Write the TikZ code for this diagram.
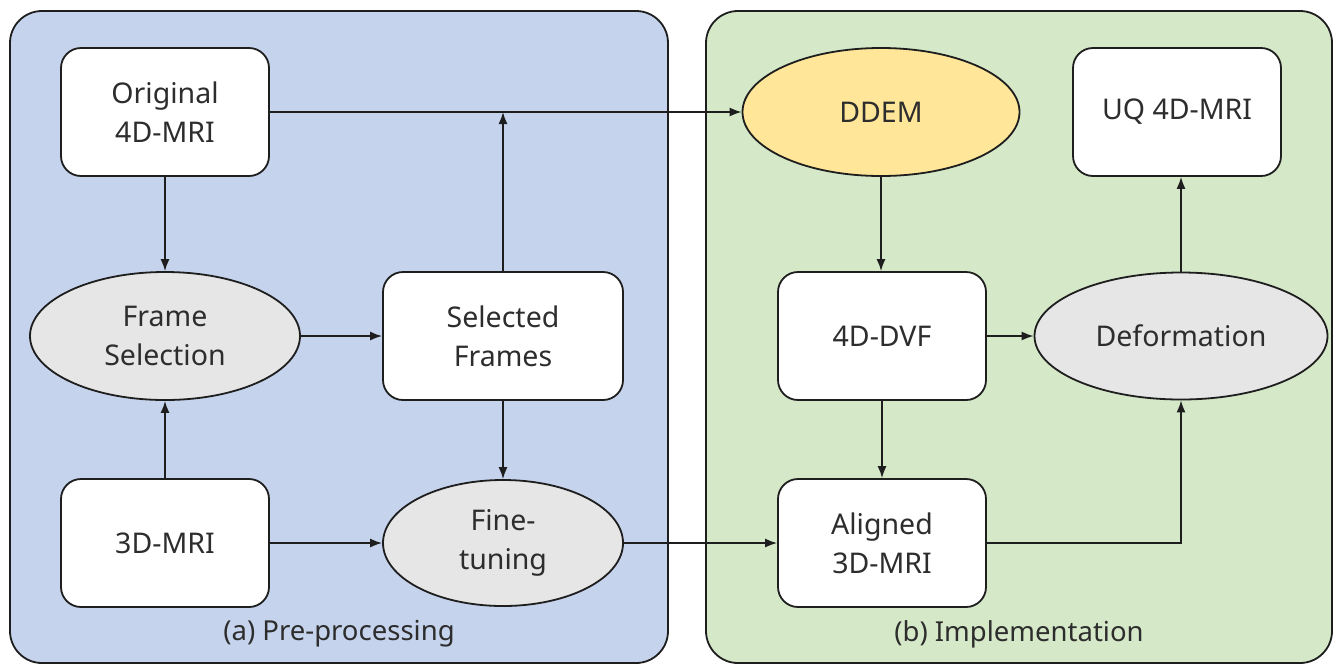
\documentclass[tikz,border=0pt]{standalone}
\usepackage{fontspec}
\setmainfont{Noto Sans}
\usetikzlibrary{shapes.geometric,arrows.meta}
\definecolor{panelA}{RGB}{197,211,236}
\definecolor{panelB}{RGB}{213,232,200}
\definecolor{ellgray}{RGB}{230,230,230}
\definecolor{ddemY}{RGB}{255,230,153}
\definecolor{ink}{RGB}{30,30,30}
\definecolor{txt}{RGB}{45,45,45}
\begin{document}
\begin{tikzpicture}[x=1pt,y=-1pt,
  every node/.style={font=\fontsize{28.5}{39}\selectfont, text=txt, align=center},
  panel/.style={draw=ink, line width=1.8pt, rounded corners=32pt},
  boxnode/.style={draw=ink, line width=1.8pt, fill=white, rounded corners=20pt, minimum width=208pt, minimum height=128pt, inner sep=0pt},
  ellnode/.style={ellipse, draw=ink, line width=1.8pt, fill=ellgray, inner sep=0pt},
  conn/.style={draw=ink, line width=1.6pt, -{Latex[length=12pt,width=9pt]}},
  caption/.style={font=\fontsize{27.5}{30}\selectfont}
]
\useasboundingbox (0,0) rectangle (1340,665);
\fill[white] (0,0) rectangle (1340,665);
\draw[panel, fill=panelA] (10,11) rectangle (668,663);
\draw[panel, fill=panelB] (706,11) rectangle (1332,663);

\node[boxnode] (orig) at (165,112) {Original\\4D-MRI};
\node[ellnode, minimum width=270pt, minimum height=128pt] (fsel) at (165,336) {Frame\\Selection};
\node[boxnode] (mri3) at (165,543) {3D-MRI};
\node[boxnode, minimum width=240pt] (sfr) at (503,336) {Selected\\Frames};
\node[ellnode, minimum width=240pt, minimum height=126pt] (ftune) at (503,543) {Fine-\\tuning};
\node[ellnode, fill=ddemY, minimum width=277pt, minimum height=128pt] (ddem) at (881,112) {DDEM};
\node[boxnode] (uq) at (1177,112) {UQ 4D-MRI};
\node[boxnode] (dvf) at (882,336) {4D-DVF};
\node[ellnode, minimum width=293pt, minimum height=127pt] (deform) at (1181,336) {Deformation};
\node[boxnode] (al) at (882,543) {Aligned\\3D-MRI};

\node[caption] (capA) at (339,634) {(a) Pre-processing};
\node[caption] (capB) at (1019,634) {(b) Implementation};

\coordinate (joinTop) at (sfr.north |- orig.east);
\coordinate (bend) at (deform.south |- al.east);

\draw[conn] (orig.east) -- (ddem.west);
\draw[conn] (sfr.north) -- (joinTop);
\draw[conn] (orig.south) -- (fsel.north);
\draw[conn] (mri3.north) -- (fsel.south);
\draw[conn] (fsel.east) -- (sfr.west);
\draw[conn] (sfr.south) -- (ftune.north);
\draw[conn] (mri3.east) -- (ftune.west);
\draw[conn] (ftune.east) -- (al.west);
\draw[conn] (ddem.south) -- (dvf.north -| ddem.south);
\draw[conn] (dvf.south) -- (al.north);
\draw[conn] (dvf.east) -- (deform.west);
\draw[conn] (al.east) -- (bend) -- (deform.south);
\draw[conn] (deform.north) -- (uq.south -| deform.north);
\end{tikzpicture}
\end{document}
